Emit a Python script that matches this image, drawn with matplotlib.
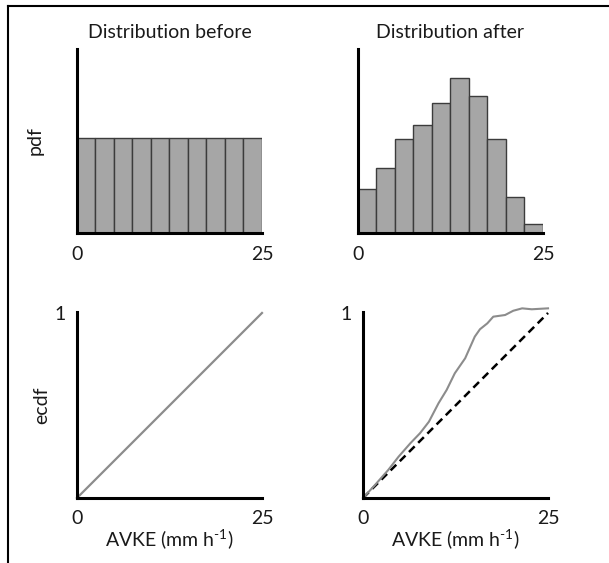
import numpy as np
import matplotlib
matplotlib.use("Agg")
import matplotlib.pyplot as plt
from matplotlib.lines import Line2D

plt.rcParams['font.family'] = ['Lato', 'DejaVu Sans']
plt.rcParams['mathtext.fontset'] = 'custom'
plt.rcParams['mathtext.rm'] = 'Lato'

# histogram bins (AVKE, mm/h)
bin_edges = [0, 2.5, 5, 7.5, 10, 12.5, 15, 17.5, 20, 22.5, 25]
pdf_before = [0.04, 0.04, 0.04, 0.04, 0.04, 0.04, 0.04, 0.04, 0.04, 0.04]
pdf_after = [0.0185, 0.0274, 0.0398, 0.0455, 0.0547, 0.0651, 0.0577, 0.0398, 0.0150, 0.0040]

# ecdf curves
ecdf_before_x = [0, 25]
ecdf_before_y = [0, 1]
ecdf_after_x = [0, 1.5, 3.4, 4.8, 6.4, 7.7, 8.9, 10.2, 11.3, 12.4, 13.8, 15.1, 15.8,
                16.8, 17.6, 19.2, 20.3, 21.5, 22.8, 25.0]
ecdf_after_y = [0, 0.065, 0.151, 0.223, 0.296, 0.35, 0.412, 0.512, 0.584, 0.674, 0.755,
                0.872, 0.912, 0.944, 0.98, 0.989, 1.012, 1.025, 1.02, 1.025]
uniform_x = [0, 25]
uniform_y = [0, 1]

xticks = [0, 25]
xtick_labels = ["0", "25"]

BAR_FILL = "#a6a6a6"
BAR_EDGE = "#3c3c3c"
LINE_GREY = "#8c8c8c"
FS = 14

fig = plt.figure(figsize=(6.09, 5.63), dpi=100)

ax_pb = fig.add_axes([0.1264, 0.5861, 0.3038, 0.3268])
ax_pa = fig.add_axes([0.5878, 0.5861, 0.3038, 0.3268])
ax_cb = fig.add_axes([0.1264, 0.1155, 0.3038, 0.3309])
ax_ca = fig.add_axes([0.5961, 0.1155, 0.3038, 0.3309])


def style(ax):
    for s in ("top", "right"):
        ax.spines[s].set_visible(False)
    for s in ("left", "bottom"):
        ax.spines[s].set_linewidth(2.2)
        ax.spines[s].set_color("black")
        ax.spines[s].set_zorder(5)
    ax.set_xlim(0, 25)
    ax.set_xticks(xticks)
    ax.set_xticklabels(xtick_labels)
    ax.tick_params(length=0, labelsize=FS, pad=9, colors="#1a1a1a")


widths = np.diff(bin_edges)
for ax, vals, title in ((ax_pb, pdf_before, "Distribution before"),
                        (ax_pa, pdf_after, "Distribution after")):
    style(ax)
    ax.bar(bin_edges[:-1], vals, width=widths, align="edge",
           color=BAR_FILL, edgecolor=BAR_EDGE, linewidth=1.0)
    ax.set_ylim(0, 0.0775)
    ax.set_yticks([])
    ax.set_title(title, fontsize=FS, pad=8, color="#1a1a1a")

ax_pb.set_ylabel("pdf", fontsize=FS, labelpad=24, color="#1a1a1a")

for ax in (ax_cb, ax_ca):
    style(ax)
    ax.set_ylim(0, 1.007)
    ax.set_yticks([1])
    ax.set_yticklabels(["1"])
    ax.tick_params(axis="y", pad=8)
    ax.set_xlabel("AVKE (mm h$^{\\mathregular{\u2010}1}$)", fontsize=FS, labelpad=0,
                  color="#1a1a1a")

ax_cb.set_ylabel("ecdf", fontsize=FS, labelpad=3, color="#1a1a1a")
ax_cb.plot(ecdf_before_x, ecdf_before_y, color=LINE_GREY, lw=1.6, clip_on=False)

ax_ca.plot(uniform_x, uniform_y, color="black", lw=1.8, dashes=(3.2, 2.0),
           clip_on=False)
ax_ca.plot(ecdf_after_x, ecdf_after_y, color=LINE_GREY, lw=1.5, clip_on=False)

# frame lines along the top and left edges
fig.add_artist(Line2D([8 / 609, 8 / 609], [0, 1 - 6 / 563], transform=fig.transFigure,
                      color="black", lw=1.5))
fig.add_artist(Line2D([8 / 609, 1], [1 - 6 / 563, 1 - 6 / 563], transform=fig.transFigure,
                      color="black", lw=1.5))

fig.savefig("out.png", dpi=100)
